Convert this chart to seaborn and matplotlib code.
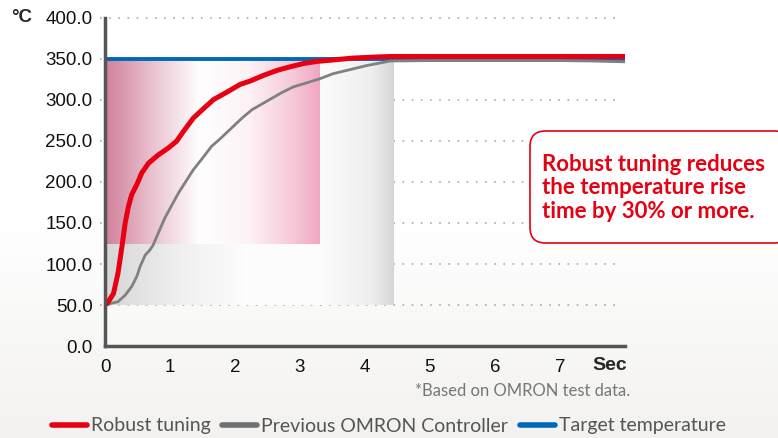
import seaborn as sns
import pandas as pd, numpy as np
import matplotlib.pyplot as plt
from matplotlib.colors import LinearSegmentedColormap
from matplotlib.patches import FancyBboxPatch
from matplotlib.lines import Line2D

# Datos
robust_t = [0.0, 0.035, 0.13, 0.20, 0.26, 0.31, 0.36, 0.41, 0.49, 0.565, 0.67, 0.82,
            0.975, 1.10, 1.21, 1.36, 1.51, 1.67, 1.875, 2.08, 2.23, 2.44, 2.645,
            2.85, 3.06, 3.26, 3.47, 3.8, 4.2, 4.4, 5.0, 6.0, 7.0, 8.0]
robust_temp = [50, 52, 64, 89, 121, 150, 170, 184.5, 197, 211, 223, 233,
               241.5, 249.6, 262, 278, 289, 300.5, 309.5, 319, 323, 330, 336,
               340.5, 344.5, 347, 348.5, 351, 352.5, 353, 353, 353, 353, 353]

prev_t = [0.0, 0.03, 0.2, 0.31, 0.41, 0.49, 0.54, 0.62, 0.69, 0.74, 0.82, 0.92,
          1.03, 1.13, 1.23, 1.36, 1.51, 1.64, 1.77, 1.95, 2.11, 2.26, 2.49,
          2.72, 2.90, 3.11, 3.31, 3.51, 4.03, 4.39, 5.0, 6.0, 7.0, 7.5, 8.0]
prev_temp = [50, 51, 54, 62, 72.5, 85, 97, 111, 117, 123, 137.7, 156,
             172, 186.5, 199, 215, 230, 243.5, 252.5, 266, 278, 288, 298.5,
             309, 316, 321, 326, 332, 342, 347.5, 348, 348, 348, 347.5, 346.5]

target_t = [0.0, 8.0]
target_temp = [350, 350]

y_ticks = [0, 50, 100, 150, 200, 250, 300, 350, 400]
x_ticks = [0, 1, 2, 3, 4, 5, 6, 7]

# zonas sombreadas y flecha
rise_end = 3.3
prev_end = 4.44
arrow_y = 124

red = '#e60012'
gray = '#808080'
blue = '#0068b7'

sns.set_theme(style='white')
plt.rcParams['font.family'] = ['Liberation Sans', 'DejaVu Sans']

fig = plt.figure(figsize=(7.78, 4.38), dpi=100)

# fondo con degradado vertical
bg = fig.add_axes([0, 0, 1, 1], zorder=-5)
grad = np.linspace(0, 1, 256).reshape(-1, 1)
bg_cmap = LinearSegmentedColormap.from_list('bg', ['#ffffff', '#ffffff', '#f3f2f0'])
bg.imshow(grad, aspect='auto', cmap=bg_cmap, extent=[0, 1, 0, 1], origin='upper')
bg.axis('off')

ax = fig.add_axes([0.135, 0.21, 0.668, 0.749])
ax.set_facecolor('none')

# degradado gris (controlador anterior)
gray_cmap = LinearSegmentedColormap.from_list(
    'g', [(0, '#d6d6d6'), (0.25, '#efefef'), (0.5, '#fdfdfd'), (0.745, '#fcfcfc'),
          (0.92, '#efefef'), (1, '#d5d7d7')])
ax.imshow(np.linspace(0, 1, 512).reshape(1, -1), aspect='auto', cmap=gray_cmap,
          extent=[0, prev_end, 50, 350], zorder=1, interpolation='bilinear')

# degradado rosa (robust tuning)
pink_cmap = LinearSegmentedColormap.from_list(
    'p', [(0, '#cf8099'), (0.2, '#e8bccb'), (0.44, '#ffffff'), (0.67, '#fdf2f5'),
          (0.85, '#f6cfdc'), (1, '#f1a7c2')])
ax.imshow(np.linspace(0, 1, 512).reshape(1, -1), aspect='auto', cmap=pink_cmap,
          extent=[0, rise_end, arrow_y, 350], zorder=1.5, interpolation='bilinear')

# lineas
sns.lineplot(x=target_t, y=target_temp, ax=ax, color=blue, lw=2.8, zorder=4,
             estimator=None, sort=False)
sns.lineplot(x=prev_t, y=prev_temp, ax=ax, color=gray, lw=2, zorder=5,
             estimator=None, sort=False)
sns.lineplot(x=robust_t, y=robust_temp, ax=ax, color=red, lw=3.6, zorder=6,
             estimator=None, sort=False)

ax.annotate('', xy=(-0.02, arrow_y), xytext=(rise_end, arrow_y), zorder=7,
            arrowprops=dict(arrowstyle='<|-|>', color=red, lw=2.2,
                            mutation_scale=22, shrinkA=0, shrinkB=0))

ax.set_xlim(0, 8)
ax.set_ylim(0, 400)
ax.set_xticks(x_ticks)
ax.set_yticks(y_ticks)
ax.set_yticklabels([f'{v:.1f}' for v in y_ticks])
ax.tick_params(axis='both', length=0, labelsize=13.5, colors='#111111')
ax.tick_params(axis='x', pad=9)
ax.tick_params(axis='y', pad=9)

for v in y_ticks[1:]:
    ax.axhline(v, xmin=-0.01, xmax=0.985, color='#aaaaaa', lw=1.2,
               ls=(0, (1, 4.5)), zorder=0.5, clip_on=False)

for s in ['top', 'right']:
    ax.spines[s].set_visible(False)
for s in ['left', 'bottom']:
    ax.spines[s].set_color('#555555')
    ax.spines[s].set_linewidth(2.5)
    ax.spines[s].set_zorder(8)

fig.text(11 / 778, 1 - 18 / 438, '°C', fontsize=13.5, fontweight='bold', va='center')
fig.text(592 / 778, 1 - 365 / 438, 'Sec', fontsize=14, fontweight='bold', va='center')
fig.text(630 / 778, 1 - 391 / 438, '*Based on OMRON test data.', fontsize=12,
         color='#777777', ha='right', va='center', family='Lato')

# recuadro de texto
box = FancyBboxPatch((530 / 778, 1 - 243 / 438), 260 / 778, 112 / 438,
                     boxstyle='round,pad=0,rounding_size=0.02', transform=fig.transFigure,
                     facecolor='white', edgecolor=red, lw=1.2, mutation_aspect=778 / 438)
fig.add_artist(box)
fig.text(542 / 778, 1 - 188 / 438,
         'Robust tuning reduces\nthe temperature rise\ntime by 30% or more.',
         fontsize=16, fontweight='bold', color=red, family='Lato', va='center',
         linespacing=1.17)

handles = [Line2D([], [], color=red, lw=4),
           Line2D([], [], color='#707070', lw=4),
           Line2D([], [], color=blue, lw=4)]
labels = ['Robust tuning', 'Previous OMRON Controller', 'Target temperature']
leg = fig.legend(handles, labels, loc='center', bbox_to_anchor=(0.5, 1 - 426 / 438),
                 ncol=3, frameon=False, handlelength=1.8, handletextpad=0.2,
                 columnspacing=0.6, prop={'family': 'Lato', 'size': 14})
for t in leg.get_texts():
    t.set_color('#555555')

fig.savefig('out.png', dpi=100)
